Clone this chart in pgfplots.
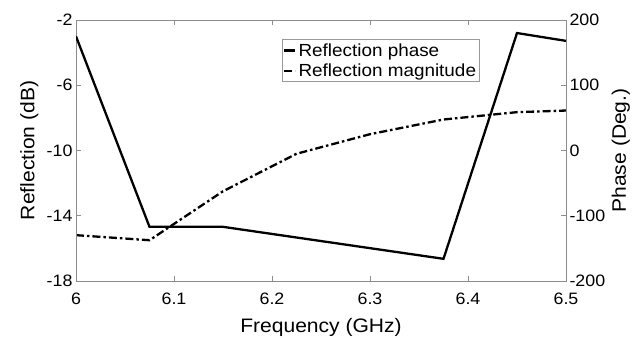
\documentclass[border=0pt]{standalone}
\usepackage{pgfplots}
\pgfplotsset{compat=1.18}
\usepackage{fontspec}
\setmainfont{Liberation Sans}[FakeStretch=1.08]
\begin{document}
\begin{tikzpicture}
\pgfplotsset{
  common/.style={
    width=490pt, height=261pt, scale only axis,
    at={(0pt,0pt)}, anchor=south west,
    xmin=6, xmax=6.5,
    axis line style={draw=black!45, line width=0.8pt},
    tick style={draw=black!45, line width=0.8pt},
    tick align=inside, major tick length=5pt,
    tick label style={font=\fontsize{16.5}{18}\selectfont, text=black},
    label style={font=\fontsize{19.5}{22}\selectfont},
    /pgf/number format/assume math mode=true,
    legend image code/.code={\draw[#1] (0pt,0pt) -- (11pt,0pt);},
  }
}
\begin{axis}[common,
  ymin=-18, ymax=-2, ytick={-18,-14,-10,-6,-2},
  xtick={6,6.1,6.2,6.3,6.4,6.5},
  xticklabels={6,6.1,6.2,6.3,6.4,6.5},
  xtick pos=both, ytick pos=left,
  xticklabel style={yshift=-8pt},
  xlabel={Frequency (GHz)}, ylabel={Reflection (dB)},
  xlabel style={at={(axis description cs:0.5,-0.199)}, anchor=base},
  ylabel style={at={(axis description cs:-0.095,0.5)}, anchor=center},
]
\addplot[black, line width=2.3pt, dash pattern=on 8pt off 3pt on 2.5pt off 3pt] coordinates {
  (6.0,-15.19) (6.075,-15.5) (6.15,-12.5) (6.225,-10.2) (6.3,-9.0) (6.375,-8.1) (6.45,-7.65) (6.5,-7.55)
};
\end{axis}
\begin{axis}[common,
  hide x axis,
  ymin=-200, ymax=200, ytick={-200,-100,0,100,200},
  ytick pos=right, yticklabel pos=right,
  ylabel={Phase (Deg.)},
  ylabel style={at={(axis description cs:1.112,0.5)}, anchor=center, rotate=0},
  legend style={at={(rel axis cs:0.42,0.927)}, anchor=north west,
    draw=black!40, line width=0.8pt, fill=white, font=\fontsize{17.5}{20}\selectfont,
    inner xsep=1pt, inner ysep=2pt, row sep=2pt, /tikz/every even column/.append style={column sep=2pt}},
  legend cell align=left,
]
\addplot[black, line width=2.3pt] coordinates {
  (6.0,175) (6.075,-117) (6.15,-117) (6.375,-166) (6.45,180) (6.5,168)
};
\addlegendentry{Reflection phase}
\addlegendimage{black, line width=2.3pt, dash pattern=on 8pt off 3pt on 2.5pt off 3pt}
\addlegendentry{Reflection magnitude}
\end{axis}
\pgfresetboundingbox
\path[use as bounding box] (-76pt,-56pt) rectangle (560pt,281pt);
\end{tikzpicture}
\end{document}
